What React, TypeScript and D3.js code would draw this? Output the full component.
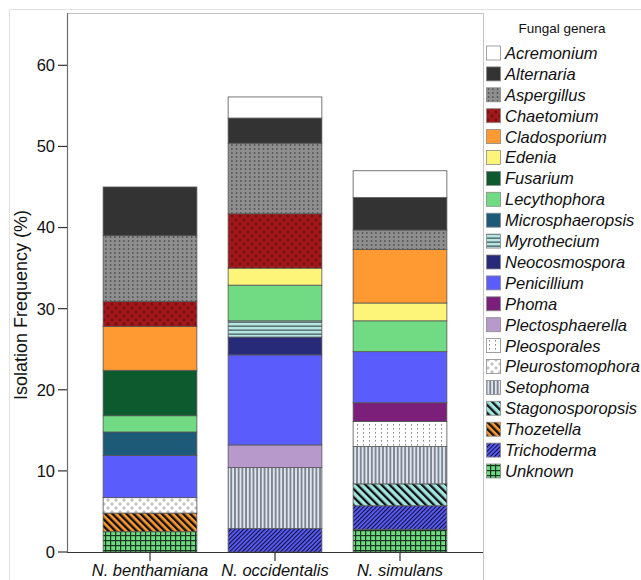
import React from "react";
import * as d3 from "d3";

// Host species (x categories)
const categories = ["N. benthamiana", "N. occidentalis", "N. simulans"];

// Fungal genera, in legend order (top of stack first)
const genera = [
  "Acremonium", "Alternaria", "Aspergillus", "Chaetomium", "Cladosporium",
  "Edenia", "Fusarium", "Lecythophora", "Microsphaeropsis", "Myrothecium",
  "Neocosmospora", "Penicillium", "Phoma", "Plectosphaerella", "Pleosporales",
  "Pleurostomophora", "Setophoma", "Stagonosporopsis", "Thozetella",
  "Trichoderma", "Unknown",
];

// Isolation frequency (%) per genus, same order as `genera`
const benthamiana = [0, 6.0, 8.1, 3.1, 5.4, 0, 5.6, 2.0, 2.9, 0, 0, 5.2, 0, 0, 0, 1.9, 0, 0, 2.3, 0, 2.5];
const occidentalis = [2.6, 3.1, 8.7, 6.7, 0, 2.1, 0, 4.4, 0, 2.0, 2.2, 11.1, 0, 2.8, 0, 0, 7.5, 0, 0, 2.9, 0];
const simulans = [3.3, 4.0, 2.4, 0, 6.6, 2.2, 0, 3.8, 0, 0, 0, 6.3, 2.3, 0, 3.1, 0, 4.6, 2.7, 0, 2.9, 2.8];

const yTicks = [0, 10, 20, 30, 40, 50, 60];

const seriesByCategory = [benthamiana, occidentalis, simulans];

const W = 641;
const H = 580;
const plot = { left: 67, right: 483, top: 13, bottom: 552 };

const FONT = "'Liberation Sans', Arial, Helvetica, sans-serif";

// fill for each genus: plain colour or a pattern id
const fills: Record<string, string> = {
  Acremonium: "#ffffff",
  Alternaria: "#333333",
  Aspergillus: "url(#p-asp)",
  Chaetomium: "url(#p-chae)",
  Cladosporium: "#ff9a33",
  Edenia: "#fdf47a",
  Fusarium: "#0c5a2d",
  Lecythophora: "#70db82",
  Microsphaeropsis: "#1d5a78",
  Myrothecium: "url(#p-myro)",
  Neocosmospora: "#262a78",
  Penicillium: "#5a5cfc",
  Phoma: "#7b1f7a",
  Plectosphaerella: "#b899cc",
  Pleosporales: "url(#p-pleo)",
  Pleurostomophora: "url(#p-pleu)",
  Setophoma: "url(#p-seto)",
  Stagonosporopsis: "url(#p-stag)",
  Thozetella: "url(#p-thoz)",
  Trichoderma: "url(#p-tric)",
  Unknown: "url(#p-unk)",
};

function Patterns() {
  const plus = (cx: number, cy: number, c: string, key: string) => (
    <g key={key} stroke={c} strokeWidth={1.2}>
      <line x1={cx - 1.8} y1={cy} x2={cx + 1.8} y2={cy} />
      <line x1={cx} y1={cy - 1.8} x2={cx} y2={cy + 1.8} />
    </g>
  );
  return (
    <defs>
      <pattern id="p-asp" patternUnits="userSpaceOnUse" width={4.5} height={4}>
        <rect width={4.5} height={4} fill="#8e8e8e" />
        <rect x={2} y={0} width={1} height={2} fill="#3e3e3e" />
      </pattern>
      <pattern id="p-pleo" patternUnits="userSpaceOnUse" width={6} height={4}>
        <rect width={6} height={4} fill="#ffffff" />
        <rect x={3} y={0} width={1} height={1.6} fill="#8a8a8a" />
      </pattern>
      <pattern id="p-chae" patternUnits="userSpaceOnUse" width={8} height={8}>
        <rect width={8} height={8} fill="#a3181b" />
        {plus(0, 0, "#6e0f12", "a")}
        {plus(8, 0, "#6e0f12", "b")}
        {plus(0, 8, "#6e0f12", "c")}
        {plus(8, 8, "#6e0f12", "d")}
        {plus(4, 4, "#6e0f12", "e")}
      </pattern>
      <pattern id="p-pleu" patternUnits="userSpaceOnUse" width={8} height={8}>
        <rect width={8} height={8} fill="#ffffff" />
        {plus(0, 0, "#b8b8b8", "a")}
        {plus(8, 0, "#b8b8b8", "b")}
        {plus(0, 8, "#b8b8b8", "c")}
        {plus(8, 8, "#b8b8b8", "d")}
        {plus(4, 4, "#b8b8b8", "e")}
      </pattern>
      <pattern id="p-myro" patternUnits="userSpaceOnUse" width={4} height={4}>
        <rect width={4} height={4} fill="#b4e6e4" />
        <rect x={0} y={1.5} width={4} height={1.3} fill="#4e5c5e" />
      </pattern>
      <pattern id="p-seto" patternUnits="userSpaceOnUse" width={3.7} height={4}>
        <rect width={3.7} height={4} fill="#dfe6ef" />
        <rect x={1.2} y={0} width={1.3} height={4} fill="#565d6c" />
      </pattern>
      <pattern id="p-stag" patternUnits="userSpaceOnUse" width={5.7} height={6} patternTransform="rotate(-45)">
        <rect width={5.7} height={6} fill="#a2e6e2" />
        <rect x={0} y={0} width={2.3} height={6} fill="#111111" />
      </pattern>
      <pattern id="p-thoz" patternUnits="userSpaceOnUse" width={5} height={6} patternTransform="rotate(-45)">
        <rect width={5} height={6} fill="#ff9a33" />
        <rect x={0} y={0} width={2.4} height={6} fill="#111111" />
      </pattern>
      <pattern id="p-tric" patternUnits="userSpaceOnUse" width={3} height={6} patternTransform="rotate(45)">
        <rect width={3} height={6} fill="#5a5cfc" />
        <rect x={0} y={0} width={1.1} height={6} fill="#111133" />
      </pattern>
      <pattern id="p-unk" patternUnits="userSpaceOnUse" width={5} height={5}>
        <rect width={5} height={5} fill="#6ddc80" />
        <rect x={0} y={0} width={5} height={1.2} fill="#1d3322" />
        <rect x={0} y={0} width={1.2} height={5} fill="#1d3322" />
      </pattern>
    </defs>
  );
}

export default function App() {
  const rows = categories.map((c, ci) => {
    const row: Record<string, any> = { category: c };
    genera.forEach((g, gi) => (row[g] = seriesByCategory[ci][gi]));
    return row;
  });

  // Stack from the bottom: last legend entry sits on the axis
  const stackKeys = genera.slice().reverse();
  const stacked = d3.stack<Record<string, any>>().keys(stackKeys)(rows);

  const x = d3
    .scaleBand<string>()
    .domain(categories)
    .range([plot.left, plot.right])
    .paddingInner(0.25)
    .paddingOuter(0.289);

  const y = d3.scaleLinear().domain([0, 66.45]).range([plot.bottom, plot.top]);

  const legendX = 486;
  const legendY0 = 53;
  const legendStep = 20.9;

  return (
    <svg
      width={W}
      height={H}
      style={{ position: "absolute", left: 0, top: 0, display: "block", background: "#fff" }}
      fontFamily={FONT}
    >
      <Patterns />

      {/* outer chart frame */}
      <rect x={9.5} y={9.5} width={W} height={H} fill="none" stroke="#e2e2e2" strokeWidth={1} />

      {/* plot area frame */}
      <line x1={plot.left} y1={plot.top + 0.5} x2={plot.right} y2={plot.top + 0.5} stroke="#c4c4c4" />
      <line x1={plot.right + 0.5} y1={plot.top} x2={plot.right + 0.5} y2={H} stroke="#c4c4c4" />

      {/* stacked bars */}
      {stacked.map((layer) => (
        <g key={layer.key} fill={fills[layer.key]}>
          {layer.map((d, i) => {
            if (d[1] - d[0] <= 0) return null;
            const cat = categories[i];
            return (
              <rect
                key={cat}
                x={x(cat)!}
                width={x.bandwidth()}
                y={y(d[1])}
                height={y(d[0]) - y(d[1])}
                stroke="#555"
                strokeWidth={0.8}
              />
            );
          })}
        </g>
      ))}

      {/* y axis */}
      <line x1={plot.left + 0.5} y1={plot.top} x2={plot.left + 0.5} y2={plot.bottom} stroke="#6e6e6e" strokeWidth={1.2} />
      {yTicks.map((t) => (
        <g key={t}>
          <line x1={plot.left - 9} x2={plot.left} y1={y(t)} y2={y(t)} stroke="#333" strokeWidth={1.2} />
          <text x={plot.left - 12} y={y(t)} dy="0.36em" textAnchor="end" fontSize={16.5} fill="#111">
            {t}
          </text>
        </g>
      ))}
      <text
        transform={`translate(21, ${305}) rotate(-90)`}
        textAnchor="middle"
        dy="0.36em"
        fontSize={18}
        fill="#111"
      >
        Isolation Frequency (%)
      </text>

      {/* x axis */}
      <line x1={plot.left} y1={plot.bottom + 0.5} x2={plot.right} y2={plot.bottom + 0.5} stroke="#333" strokeWidth={1.2} />
      {categories.map((c) => {
        const cx = x(c)! + x.bandwidth() / 2;
        return (
          <g key={c}>
            <line x1={cx} x2={cx} y1={plot.bottom} y2={plot.bottom + 9} stroke="#333" strokeWidth={1.2} />
            <text x={cx} y={576} textAnchor="middle" fontSize={16.5} fontStyle="italic" fill="#111">
              {c}
            </text>
          </g>
        );
      })}

      {/* legend */}
      <text x={562} y={33} textAnchor="middle" fontSize={13.5} fill="#111">
        Fungal genera
      </text>
      {genera.map((g, i) => {
        const cy = legendY0 + i * legendStep;
        return (
          <g key={g}>
            <rect x={legendX + 0.5} y={cy - 7} width={14} height={14} fill={fills[g]} stroke="#8a8a8a" strokeWidth={0.8} />
            <text x={505} y={cy} dy="0.36em" fontSize={16.5} fontStyle="italic" fill="#111">
              {g}
            </text>
          </g>
        );
      })}
    </svg>
  );
}
